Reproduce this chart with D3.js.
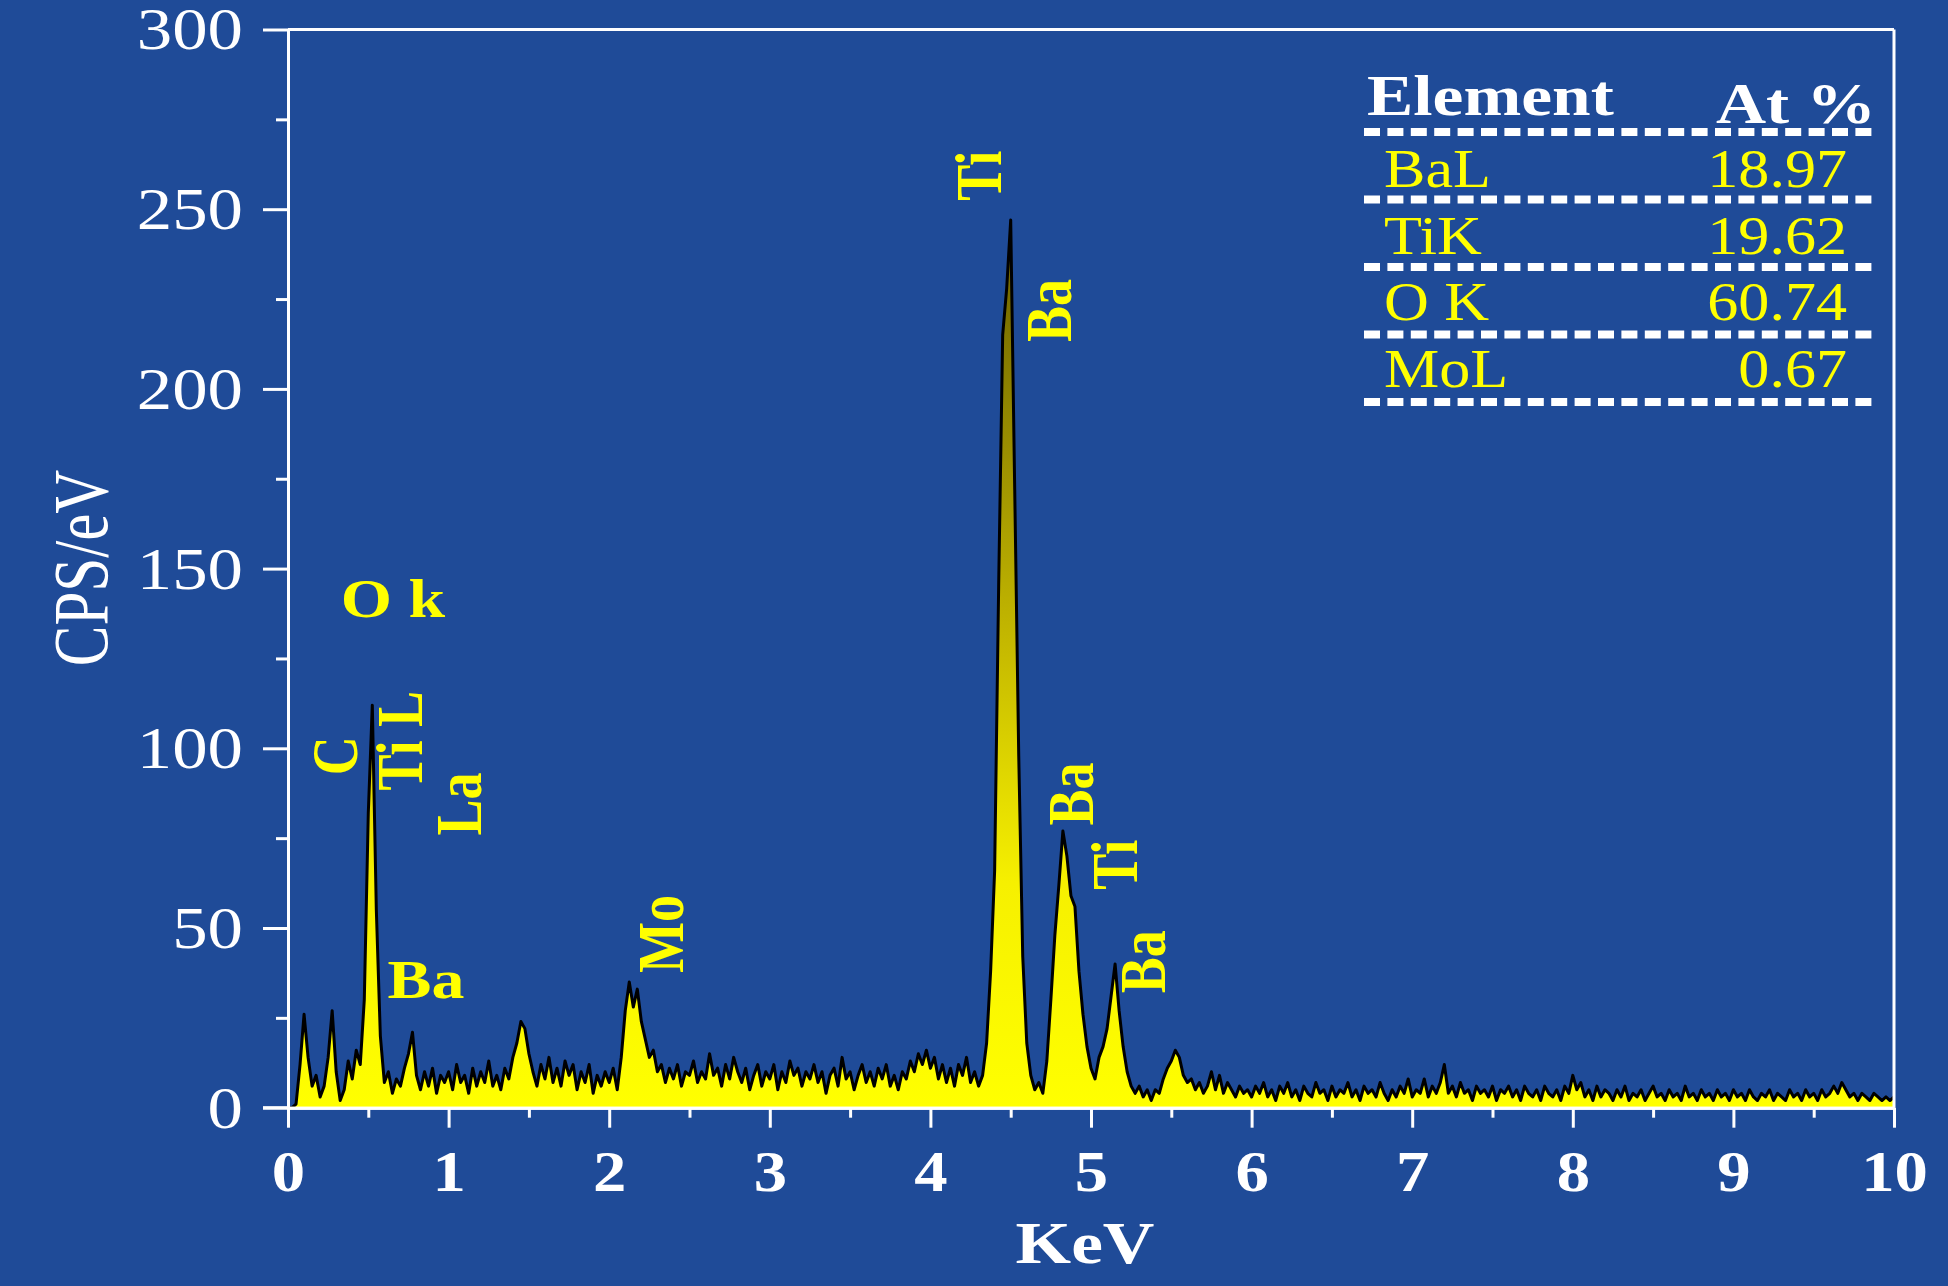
<!DOCTYPE html>
<html>
<head>
<meta charset="utf-8">
<script src="https://cdn.jsdelivr.net/npm/d3@7"></script>
<style>
  html, body { margin: 0; padding: 0; background: #1f4b98; }
  svg { display: block; }
</style>
</head>
<body>
<div id="chart"></div>
<script>
// EDS spectrum, counts, one value every 0.025 keV
var channelWidth = 0.025;

var cps0 = [0, 0, 1, 12, 26, 14, 6, 9, 3, 6, 14, 27, 10, 2, 5, 13, 8, 16, 12, 30,
  82, 112, 55, 20, 7, 10, 4, 8, 6, 11, 15, 21, 9, 5, 10, 6, 11, 4, 9, 7];
var cps1 = [10, 5, 12, 7, 9, 4, 11, 6, 10, 7, 13, 6, 9, 5, 11, 8, 14, 18, 24, 22,
  15, 10, 6, 12, 8, 14, 7, 11, 6, 13, 9, 12, 5, 10, 7, 12, 4, 9, 6, 10];
var cps2 = [7, 11, 5, 14, 27, 35, 28, 33, 24, 19, 14, 16, 10, 12, 7, 11, 8, 12, 6, 10,
  9, 13, 7, 10, 8, 15, 9, 11, 6, 12, 8, 14, 10, 7, 11, 5, 9, 12, 6, 10];
var cps3 = [8, 12, 5, 10, 7, 13, 9, 11, 6, 10, 8, 12, 7, 10, 4, 9, 11, 6, 14, 8,
  10, 5, 9, 12, 7, 10, 6, 11, 8, 12, 6, 9, 5, 10, 8, 13, 10, 15, 12, 16];
var cps4 = [11, 14, 8, 12, 7, 11, 6, 12, 9, 14, 7, 10, 6, 9, 18, 38, 66, 145, 215, 228,
  247, 172, 98, 42, 18, 9, 5, 7, 4, 13, 30, 48, 62, 77, 70, 59, 56, 38, 26, 17];
var cps5 = [11, 8, 14, 17, 22, 31, 40, 27, 17, 10, 6, 4, 6, 3, 5, 2, 5, 4, 8, 11,
  13, 16, 14, 9, 7, 8, 5, 7, 4, 6, 10, 5, 9, 4, 7, 5, 3, 6, 4, 5];
var cps6 = [3, 6, 4, 7, 3, 5, 2, 6, 4, 7, 3, 5, 2, 6, 4, 3, 7, 4, 5, 2,
  6, 3, 5, 4, 7, 3, 5, 2, 6, 4, 5, 3, 7, 4, 2, 5, 3, 6, 4, 8];
var cps7 = [3, 5, 4, 8, 3, 6, 4, 7, 12, 4, 6, 3, 7, 4, 5, 2, 6, 4, 5, 3,
  6, 2, 5, 4, 6, 3, 5, 2, 6, 4, 3, 5, 2, 6, 4, 3, 5, 2, 6, 4];
var cps8 = [9, 5, 7, 3, 5, 2, 6, 3, 5, 4, 2, 5, 3, 6, 2, 4, 3, 5, 2, 4,
  6, 3, 4, 2, 5, 3, 4, 2, 6, 3, 4, 2, 5, 3, 4, 2, 5, 3, 4, 2];
var cps9 = [5, 3, 4, 2, 5, 3, 2, 4, 3, 5, 2, 4, 3, 2, 5, 3, 4, 2, 5, 3,
  4, 2, 5, 3, 4, 6, 4, 7, 5, 3, 4, 2, 4, 3, 2, 4, 3, 2, 3, 2, 3];

var xTicks = [0, 1, 2, 3, 4, 5, 6, 7, 8, 9, 10];
var yTicks = [0, 50, 100, 150, 200, 250, 300];

// peak annotations, anchored in keV / cps
var peakNames = ["C", "Ti L", "La", "Mo", "Ti", "Ba", "Ba", "Ti", "Ba"];
var peakKeV = [0.427, 0.834, 1.202, 2.459, 4.440, 4.875, 5.012, 5.286, 5.461];
var peakCps = [97.9, 102.1, 84.5, 48.3, 259.3, 221.8, 87.3, 67.6, 40.6];
var flatNames = ["O k", "Ba"];
var flatKeV = [0.654, 0.859];
var flatCps = [136.6, 30.5];

// quantification table
var tableElements = ["BaL", "TiK", "O K", "MoL"];
var tableAtPct = ["18.97", "19.62", "60.74", "0.67"];

var chartWidth = 1948;
var chartHeight = 1286;
var serif = "'Liberation Serif', 'Times New Roman', serif";

var spectrum = [].concat(cps0, cps1, cps2, cps3, cps4, cps5, cps6, cps7, cps8, cps9)
  .map(function (c, i) { return { kev: i * channelWidth, cps: c }; });

var svg = d3.select("#chart").append("svg")
  .attr("width", chartWidth)
  .attr("height", chartHeight);

svg.append("rect").attr("width", chartWidth).attr("height", chartHeight).attr("fill", "#1f4b98");

var x = d3.scaleLinear().domain([0, 10]).range([288, 1894]);
var y = d3.scaleLinear().domain([0, 300]).range([1107.7, 29.5]);

// the original text is drawn wide, so stretch it sideways
function placeText(sel, px, py, sx, rot) {
  sel.attr("transform", "translate(" + px + "," + py + ") scale(" + sx + ",1)" + (rot ? " rotate(" + rot + ")" : ""));
}

// gradient fill, yellow at the bottom getting darker toward the top
var grad = svg.append("defs").append("linearGradient")
  .attr("id", "peakFill")
  .attr("gradientUnits", "userSpaceOnUse")
  .attr("x1", 0).attr("x2", 0)
  .attr("y1", y(0)).attr("y2", y(250));
grad.append("stop").attr("offset", 0).attr("stop-color", "#ffff00");
grad.append("stop").attr("offset", 0.25).attr("stop-color", "#f6f000");
grad.append("stop").attr("offset", 0.5).attr("stop-color", "#c8bc00");
grad.append("stop").attr("offset", 0.75).attr("stop-color", "#978b00");
grad.append("stop").attr("offset", 1).attr("stop-color", "#665c00");

var area = d3.area()
  .x(function (d) { return x(d.kev); })
  .y0(y(0))
  .y1(function (d) { return y(d.cps); });

var line = d3.line()
  .x(function (d) { return x(d.kev); })
  .y(function (d) { return y(d.cps); });

svg.append("path").datum(spectrum).attr("d", area).attr("fill", "url(#peakFill)");
svg.append("path").datum(spectrum).attr("d", line)
  .attr("fill", "none").attr("stroke", "#000").attr("stroke-width", 3)
  .attr("stroke-linejoin", "round");

// frame
var frame = svg.append("g").attr("stroke", "#fff").attr("stroke-width", 3);
frame.append("line").attr("x1", x(0)).attr("x2", x(10)).attr("y1", y(300)).attr("y2", y(300));
frame.append("line").attr("x1", x(10)).attr("x2", x(10)).attr("y1", y(300)).attr("y2", y(0));

// y axis
var yMinor = svg.append("g").attr("transform", "translate(" + x(0) + ",0)").style("color", "#fff")
  .call(d3.axisLeft(y).tickValues(d3.range(25, 300, 50)).tickSize(12).tickSizeOuter(0).tickFormat(""));
var yAxis = svg.append("g").attr("transform", "translate(" + x(0) + ",0)").style("color", "#fff")
  .call(d3.axisLeft(y).tickValues(yTicks).tickSize(25).tickSizeOuter(0));
svg.selectAll(".domain, .tick line").attr("stroke-width", 3);
yAxis.selectAll("text")
  .attr("x", 0).attr("dy", "0.33em")
  .attr("fill", "#fff").attr("font-family", serif).attr("font-size", 59)
  .attr("text-anchor", "end")
  .each(function () { placeText(d3.select(this), -45, 0, 1.2); });

// x axis
var xMinor = svg.append("g").attr("transform", "translate(0," + y(0) + ")").style("color", "#fff")
  .call(d3.axisBottom(x).tickValues(d3.range(0.5, 10, 1)).tickSize(10).tickSizeOuter(0).tickFormat(""));
var xAxis = svg.append("g").attr("transform", "translate(0," + y(0) + ")").style("color", "#fff")
  .call(d3.axisBottom(x).tickValues(xTicks).tickSize(20).tickSizeOuter(0));
svg.selectAll(".domain, .tick line").attr("stroke-width", 3);
xAxis.selectAll("text")
  .attr("y", 0).attr("dy", 0)
  .attr("fill", "#fff").attr("font-family", serif).attr("font-size", 58).attr("font-weight", "bold")
  .attr("text-anchor", "middle")
  .each(function () { placeText(d3.select(this), 0, 83, 1.15); });

// baseline runs out to the end of the outer tick
frame.append("line").attr("x1", x(0) - 25).attr("x2", x(0)).attr("y1", y(0)).attr("y2", y(0));

// axis titles
svg.append("text").text("KeV")
  .attr("fill", "#fff").attr("font-family", serif).attr("font-size", 60).attr("font-weight", "bold")
  .attr("text-anchor", "middle")
  .call(placeText, 1085, 1263, 1.19);
svg.append("text").text("CPS/eV")
  .attr("fill", "#fff").attr("font-family", serif).attr("font-size", 61)
  .attr("text-anchor", "middle")
  .call(placeText, 107, 568, 1.27, -90);

// peak labels
svg.append("g").selectAll("text").data(peakNames).enter().append("text")
  .text(function (d) { return d; })
  .attr("fill", "#ffff00").attr("font-family", serif).attr("font-size", 54).attr("font-weight", "bold")
  .attr("text-anchor", "middle")
  .each(function (d, i) { placeText(d3.select(this), x(peakKeV[i]), y(peakCps[i]), 1.22, -90); });

svg.append("g").selectAll("text").data(flatNames).enter().append("text")
  .text(function (d) { return d; })
  .attr("fill", "#ffff00").attr("font-family", serif).attr("font-size", 54).attr("font-weight", "bold")
  .attr("text-anchor", "middle")
  .each(function (d, i) { placeText(d3.select(this), x(flatKeV[i]), y(flatCps[i]), 1.22); });

// table
var table = svg.append("g");
table.append("text").text("Element")
  .attr("fill", "#fff").attr("font-family", serif).attr("font-size", 56).attr("font-weight", "bold")
  .call(placeText, 1367, 115, 1.24);
table.append("text").text("At %")
  .attr("fill", "#fff").attr("font-family", serif).attr("font-size", 56).attr("font-weight", "bold")
  .attr("text-anchor", "end")
  .call(placeText, 1876, 123, 1.24);

var rowGap = 67.5;
table.selectAll(".dash").data(d3.range(tableElements.length + 1)).enter().append("line")
  .attr("class", "dash")
  .attr("x1", 1364).attr("x2", 1878)
  .attr("y1", function (d) { return 132 + d * rowGap; })
  .attr("y2", function (d) { return 132 + d * rowGap; })
  .attr("stroke", "#fff").attr("stroke-width", 8).attr("stroke-dasharray", "16 7.4");

table.selectAll(".el").data(tableElements).enter().append("text")
  .attr("class", "el")
  .text(function (d) { return d; })
  .attr("fill", "#ffff00").attr("font-family", serif).attr("font-size", 54)
  .each(function (d, i) { placeText(d3.select(this), 1384, 187 + i * 66.7, 1.15); });

table.selectAll(".pct").data(tableAtPct).enter().append("text")
  .attr("class", "pct")
  .text(function (d) { return d; })
  .attr("fill", "#ffff00").attr("font-family", serif).attr("font-size", 54)
  .attr("text-anchor", "end")
  .each(function (d, i) { placeText(d3.select(this), 1847, 187 + i * 66.7, 1.15); });
</script>
</body>
</html>
